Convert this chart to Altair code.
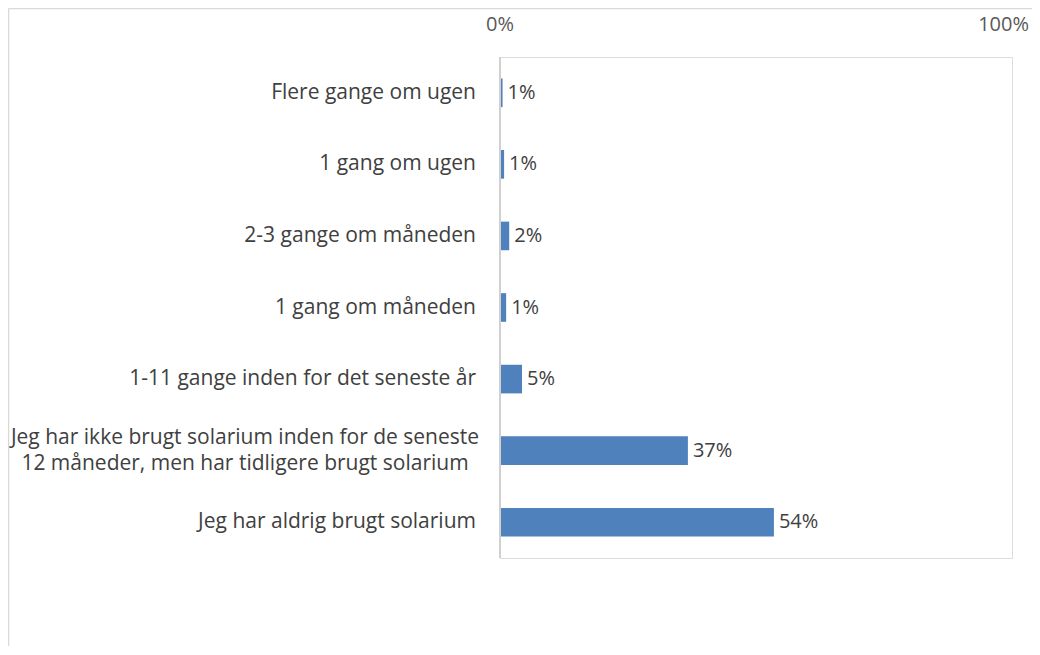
import altair as alt
import pandas as pd

categories = [
    "Flere gange om ugen",
    "1 gang om ugen",
    "2-3 gange om måneden",
    "1 gang om måneden",
    "1-11 gange inden for det seneste år",
    "Jeg har ikke brugt solarium inden for de seneste\n12 måneder, men har tidligere brugt solarium",
    "Jeg har aldrig brugt solarium",
]
values = [0.5, 0.8, 1.8, 1.2, 4.3, 36.7, 53.5]
value_labels = ["1%", "1%", "2%", "1%", "5%", "37%", "54%"]
axis_values = [0, 100]
axis_labels = ["0%", "100%"]

FONT = "Open Sans"
TXT = "#404040"
FS = 20
FS_CAT = 21

df = pd.DataFrame({"cat": categories, "val": values, "lab": value_labels,
                   "multi": ["\n" in c for c in categories]})
ticks_df = pd.DataFrame({"v": axis_values, "t": axis_labels})

ysc = alt.Scale(domain=categories, paddingInner=0.6, paddingOuter=0.3)
y = alt.Y("cat:N", scale=ysc, sort=categories, axis=None)
xsc = alt.Scale(domain=[0, 100], nice=False, zero=True)

base = alt.Chart(df)

bars = base.mark_bar(color="#4F81BD").encode(
    x=alt.X("val:Q", scale=xsc, axis=None),
    y=y,
)

tick_base = alt.Chart(ticks_df)
tick_first = tick_base.transform_filter("datum.v < 100").mark_text(
    align="center", baseline="middle", fontSize=FS, font=FONT, color="#595959"
).encode(x=alt.X("v:Q", scale=xsc), y=alt.value(-32), text="t:N")
tick_last = tick_base.transform_filter("datum.v >= 100").mark_text(
    align="right", baseline="middle", fontSize=FS, font=FONT, color="#595959", dx=17
).encode(x=alt.X("v:Q", scale=xsc), y=alt.value(-32), text="t:N")

vlabels = base.mark_text(align="left", baseline="middle", dx=5, fontSize=FS,
                         font=FONT, color=TXT).encode(
    x=alt.X("val:Q", scale=xsc), y=y, text="lab:N")

cat_single = base.transform_filter("!datum.multi").mark_text(
    align="right", baseline="middle", fontSize=FS_CAT, font=FONT, color=TXT
).encode(x=alt.value(-24), y=y, text="cat:N")

cat_multi = base.transform_filter("datum.multi").mark_text(
    align="center", baseline="middle", fontSize=FS_CAT, font=FONT, color=TXT,
    lineBreak="\n", lineHeight=26, dy=-13
).encode(x=alt.value(-255), y=y, text="cat:N")

left_axis = alt.Chart(pd.DataFrame({"a": [0]})).mark_rule(color="#D0D0D0", strokeWidth=2).encode(
    x=alt.value(0), y=alt.value(0), y2=alt.value(501))

outer_v = alt.Chart(pd.DataFrame({"a": [0]})).mark_rule(color="#D9D9D9", strokeWidth=1.5).encode(
    x=alt.value(-491.5), y=alt.value(-48.5), y2=alt.value(700))
outer_h = alt.Chart(pd.DataFrame({"a": [0]})).mark_rule(color="#D9D9D9", strokeWidth=1.5).encode(
    x=alt.value(-491.5), x2=alt.value(600), y=alt.value(-48.5))

chart = alt.layer(outer_v, outer_h, bars, left_axis, tick_first, tick_last,
                  vlabels, cat_single, cat_multi).properties(
    width=512, height=501,
    autosize=alt.AutoSizeParams(type="none"),
    padding={"left": 492, "top": 49, "right": 20, "bottom": 88},
).configure_view(stroke="#A6A6A6", strokeWidth=1.5).configure(background="white")

chart.save("out.html", embed_options={"renderer": "svg", "actions": False})
